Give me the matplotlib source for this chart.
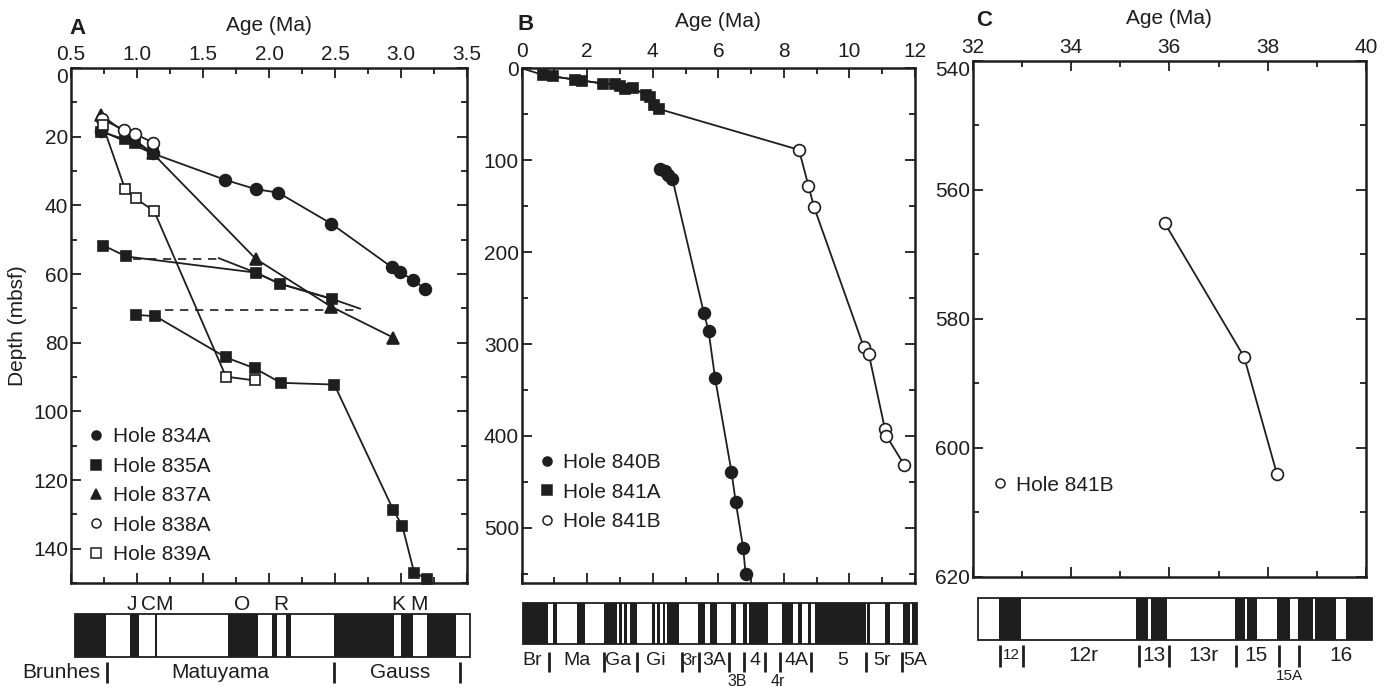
import matplotlib.pyplot as plt
from matplotlib.lines import Line2D
from matplotlib.patches import Rectangle
from matplotlib.ticker import MultipleLocator, FormatStrFormatter

plt.rcParams['font.family'] = ['Liberation Sans', 'DejaVu Sans']

INK = '#1e1e1e'
FS = 15

# ---------------- panel A: age (Ma) vs depth (mbsf)
age_834a = [0.73, 1.12, 1.67, 1.90, 2.07, 2.47, 2.93, 2.99, 3.09, 3.18]
dep_834a = [18.3, 24.9, 32.6, 35.3, 36.3, 45.3, 58.0, 59.4, 61.7, 64.3]

age_835a_1 = [0.73, 0.91, 0.985, 1.12]
dep_835a_1 = [18.6, 20.8, 21.8, 24.6]
age_835a_2 = [0.745, 0.92, 1.90, 2.08, 2.48]
dep_835a_2 = [51.7, 54.9, 59.6, 62.8, 67.3]
age_835a_3 = [0.99, 1.14, 1.674, 1.894, 2.09, 2.495, 2.94, 3.01, 3.10, 3.20]
dep_835a_3 = [71.9, 72.3, 84.3, 87.5, 91.7, 92.2, 128.6, 133.4, 147.0, 148.8]
# correlation ties between the offset 835A sections
tie_age_1 = [0.97, 1.62]
tie_dep_1 = [55.6, 55.6]
tie_age_2 = [1.21, 2.69]
tie_dep_2 = [70.6, 70.6]
# line-only trend through the middle 835A section
trend_age = [1.62, 1.90, 2.08, 2.48, 2.69]
trend_dep = [55.4, 59.6, 62.8, 67.3, 70.1]

age_837a = [0.73, 1.12, 1.90, 2.47, 2.94]
dep_837a = [13.7, 24.9, 55.6, 69.5, 78.5]

age_838a = [0.733, 0.90, 0.985, 1.12]
dep_838a = [14.9, 18.0, 19.2, 21.7]

age_839a = [0.74, 0.91, 0.99, 1.13, 1.674, 1.894]
dep_839a = [16.6, 35.3, 38.0, 41.7, 89.9, 91.0]

# ---------------- panel B
age_840b = [4.22, 4.37, 4.47, 4.60, 5.56, 5.70, 5.90, 6.40, 6.53, 6.76, 6.83]
dep_840b = [110.1, 111.7, 116.4, 120.7, 266.5, 285.4, 337.0, 438.8, 471.9, 522.3, 550.0]

age_841a = [0.66, 0.96, 1.62, 1.83, 2.49, 2.84, 3.0, 3.15, 3.4, 3.8, 3.9, 4.05, 4.2]
dep_841a = [7.3, 8.9, 12.2, 13.3, 16.6, 17.3, 19.6, 22.5, 21.8, 29.1, 31.6, 40.0, 44.4]

age_841b = [8.46, 8.75, 8.92, 10.44, 10.59, 11.08, 11.13, 11.67]
dep_841b = [88.7, 128.0, 151.0, 303.6, 310.8, 392.0, 400.0, 431.5]

# ---------------- panel C
age_841b_c = [35.91, 37.52, 38.19]
dep_841b_c = [565.2, 585.9, 604.1]

# ---------------- polarity time scales (normal intervals are black)
span_a = (0.53, 3.52)
normal_a = [(0.53, 0.765), (0.947, 1.017), (1.136, 1.149), (1.69, 1.92), (2.02, 2.06),
            (2.13, 2.17), (2.49, 2.95), (3.0, 3.09), (3.2, 3.42)]
events_a = ['J', 'CM', 'O', 'R', 'K', 'M']
events_a_age = [0.96, 1.15, 1.80, 2.09, 2.98, 3.14]
chrons_a = ['Brunhes', 'Matuyama', 'Gauss']
chrons_a_age = [0.43, 1.63, 2.99]
seps_a = [0.775, 2.49, 3.45]

span_b = (0.05, 12.06)
normal_b = [(0.05, 0.81), (0.95, 1.08), (1.69, 1.93), (2.51, 2.91), (2.98, 3.05),
            (3.12, 3.20), (3.30, 3.51), (3.98, 4.06), (4.13, 4.22), (4.30, 4.37),
            (4.42, 4.80), (5.38, 5.59), (5.74, 5.95), (6.40, 6.55), (6.76, 6.86),
            (6.94, 7.52), (7.93, 8.28), (8.43, 8.54), (8.74, 8.84), (8.94, 10.50),
            (10.55, 10.62), (11.08, 11.23), (11.62, 11.84), (11.91, 12.06)]
chrons_b = ['Br', 'Ma', 'Ga', 'Gi', '3r', '3A', '4', '4A', '5', '5r', '5A']
chrons_b_age = [0.31, 1.69, 2.94, 4.09, 5.14, 5.86, 7.12, 8.38, 9.79, 11.0, 12.02]
chrons_b_size = [14, 14, 14, 14, 12, 14, 14, 14, 14, 14, 14]
chrons_b2 = ['3B', '4r']
chrons_b2_age = [6.57, 7.8]
seps_b = [0.82, 2.51, 3.52, 4.88, 5.41, 6.33, 6.79, 7.42, 7.87, 8.84, 10.52, 11.59]

span_c = (32.10, 40.13)
normal_c = [(32.53, 32.98), (35.32, 35.57), (35.62, 35.96), (37.33, 37.53),
            (37.58, 37.78), (38.18, 38.45), (38.61, 38.92), (38.97, 39.38), (39.60, 40.13)]
chrons_c = ['12', '12r', '13', '13r', '15', '16']
chrons_c_age = [32.78, 34.25, 35.68, 36.69, 37.77, 39.5]
chrons_c_size = [11, FS, FS, FS, FS, FS]
chrons_c2 = ['15A']
chrons_c2_age = [38.45]
seps_c = [32.55, 33.02, 35.39, 35.99, 37.35, 38.23, 38.63]

W, H = 1389, 687
fig = plt.figure(figsize=(W / 100, H / 100), dpi=100)


def px_axes(left, right, top, bottom):
    return fig.add_axes([left / W, 1 - bottom / H, (right - left) / W, (bottom - top) / H])


def style_axes(ax, xlim, ylim, xmaj, xmin, ymaj, ymin, xfmt, pad, tpad):
    ax.set_xlim(*xlim)
    ax.set_ylim(*ylim)
    ax.xaxis.set_major_locator(MultipleLocator(xmaj))
    ax.xaxis.set_minor_locator(MultipleLocator(xmin))
    ax.yaxis.set_major_locator(MultipleLocator(ymaj))
    ax.yaxis.set_minor_locator(MultipleLocator(ymin))
    ax.xaxis.set_major_formatter(FormatStrFormatter(xfmt))
    ax.tick_params(which='both', direction='in', top=True, right=True, bottom=True,
                   labeltop=True, labelbottom=False, colors=INK, labelsize=FS, width=1.3)
    ax.tick_params(which='major', length=7)
    ax.tick_params(axis='x', which='major', pad=tpad)
    ax.tick_params(axis='y', which='major', pad=2)
    ax.tick_params(which='minor', length=4)
    ax.xaxis.set_label_position('top')
    ax.set_xlabel('Age (Ma)', fontsize=FS, color=INK, labelpad=pad)
    for s in ax.spines.values():
        s.set_linewidth(1.8)
        s.set_color(INK)


def hang_top_label(ax, value):
    # the top depth label sits just under the corner, as in the original
    fig.canvas.draw()
    for t in ax.yaxis.get_major_ticks():
        if abs(t.get_loc() - value) < 1e-9:
            t.label1.set_va('top')


def hole(ax, ages, deps, marker, filled, ms=8.5):
    ax.plot(ages, deps, color=INK, lw=1.3, marker=marker, ms=ms,
            mfc=INK if filled else 'white', mec=INK, mew=1.2, clip_on=False, zorder=3)


def legend(ax, entries, anchor):
    handles = [Line2D([], [], ls='none', marker=m, ms=6.5, mfc=INK if f else 'white',
                      mec=INK, mew=1.1) for m, f, _ in entries]
    ax.legend(handles, [t for _, _, t in entries], loc='upper left', bbox_to_anchor=anchor,
              frameon=False, fontsize=FS, handlelength=0.7, handletextpad=0.45,
              labelspacing=0.5, borderaxespad=0, borderpad=0, labelcolor=INK)


def polarity(ax, xlim, span, normals):
    ax.set_xlim(*xlim)
    ax.set_ylim(0, 1)
    ax.axis('off')
    ax.broken_barh([(s, e - s) for s, e in normals], (0, 1), facecolors=INK, clip_on=False)
    ax.add_patch(Rectangle((span[0], 0), span[1] - span[0], 1, fill=False, ec=INK,
                           lw=1.3, clip_on=False))


def labels(ax, names, ages, y, size=FS):
    sizes = size if isinstance(size, list) else [size] * len(names)
    for n, a, s in zip(names, ages, sizes):
        ax.text(a, y, n, ha='center', va='center', fontsize=s, color=INK)


# ================= panel A
axA = px_axes(71, 467, 68, 583)
style_axes(axA, (0.5, 3.5), (150, 0), 0.5, 0.25, 20, 10, '%.1f', 10, 3)
axA.set_ylabel('Depth (mbsf)', fontsize=FS, color=INK)
axA.yaxis.set_label_coords(-0.112, 0.5)
axA.plot(tie_age_1, tie_dep_1, color=INK, lw=1.2, ls=(0, (5, 4)))
axA.plot(tie_age_2, tie_dep_2, color=INK, lw=1.2, ls=(0, (5, 4)))
axA.plot(trend_age, trend_dep, color=INK, lw=1.3)
hole(axA, age_834a, dep_834a, 'o', True)
hole(axA, age_837a, dep_837a, '^', True)
hole(axA, age_835a_1, dep_835a_1, 's', True, 7.5)
hole(axA, age_835a_2, dep_835a_2, 's', True, 7.5)
hole(axA, age_835a_3, dep_835a_3, 's', True, 7.5)
hole(axA, age_838a, dep_838a, 'o', False)
hole(axA, age_839a, dep_839a, 's', False, 7.5)
legend(axA, [('o', True, 'Hole 834A'), ('s', True, 'Hole 835A'), ('^', True, 'Hole 837A'),
             ('o', False, 'Hole 838A'), ('s', False, 'Hole 839A')], (0.045, 0.302))
fig.text(78 / W, 1 - 28 / H, 'A', fontsize=16, fontweight='bold', ha='center', va='center', color=INK)

barA = px_axes(71, 467, 614, 657)
polarity(barA, (0.5, 3.5), span_a, normal_a)
labels(barA, events_a, events_a_age, 1.21)
labels(barA, chrons_a, chrons_a_age, -0.37)
barA.vlines(seps_a, -0.11, -0.6, colors=INK, lw=2, clip_on=False)

# ================= panel B
axB = px_axes(521.7, 915, 68.3, 583)
style_axes(axB, (0, 12), (560, 0), 2, 1, 100, 50, '%d', 11, 5)
axB.plot([0] + age_841a + age_841b, [0] + dep_841a + dep_841b, color=INK, lw=1.3)
hole(axB, age_840b, dep_840b, 'o', True)
hole(axB, age_841a, dep_841a, 's', True, 7.5)
axB.plot(age_841b, dep_841b, ls='none', marker='o', ms=8.5, mfc='white', mec=INK, mew=1.2,
         clip_on=False, zorder=3)
legend(axB, [('o', True, 'Hole 840B'), ('s', True, 'Hole 841A'), ('o', False, 'Hole 841B')],
       (0.045, 0.252))
fig.text(525.7 / W, 1 - 25 / H, 'B', fontsize=16, fontweight='bold', ha='center', va='center', color=INK)

barB = px_axes(521.7, 915, 602.7, 644)
polarity(barB, (0, 12), span_b, normal_b)
labels(barB, chrons_b, chrons_b_age, -0.39, chrons_b_size)
labels(barB, chrons_b2, chrons_b2_age, -0.92, 11.5)
barB.vlines(seps_b, -0.19, -0.67, colors=INK, lw=2, clip_on=False)

# ================= panel C
axC = px_axes(972.7, 1366, 61, 576.7)
style_axes(axC, (32, 40), (620, 540), 2, 1, 20, 10, '%d', 10, 3)
hole(axC, age_841b_c, dep_841b_c, 'o', False)
legend(axC, [('o', False, 'Hole 841B')], (0.05, 0.196))
fig.text(984.3 / W, 1 - 21 / H, 'C', fontsize=16, fontweight='bold', ha='center', va='center', color=INK)

barC = px_axes(972.7, 1366, 598.3, 640)
polarity(barC, (32, 40), span_c, normal_c)
labels(barC, chrons_c, chrons_c_age, -0.36, chrons_c_size)
labels(barC, chrons_c2, chrons_c2_age, -0.86, 11)
barC.vlines(seps_c, -0.12, -0.64, colors=INK, lw=2, clip_on=False)

hang_top_label(axA, 0)
hang_top_label(axC, 540)

fig.savefig('out.png', dpi=100, facecolor='white')
